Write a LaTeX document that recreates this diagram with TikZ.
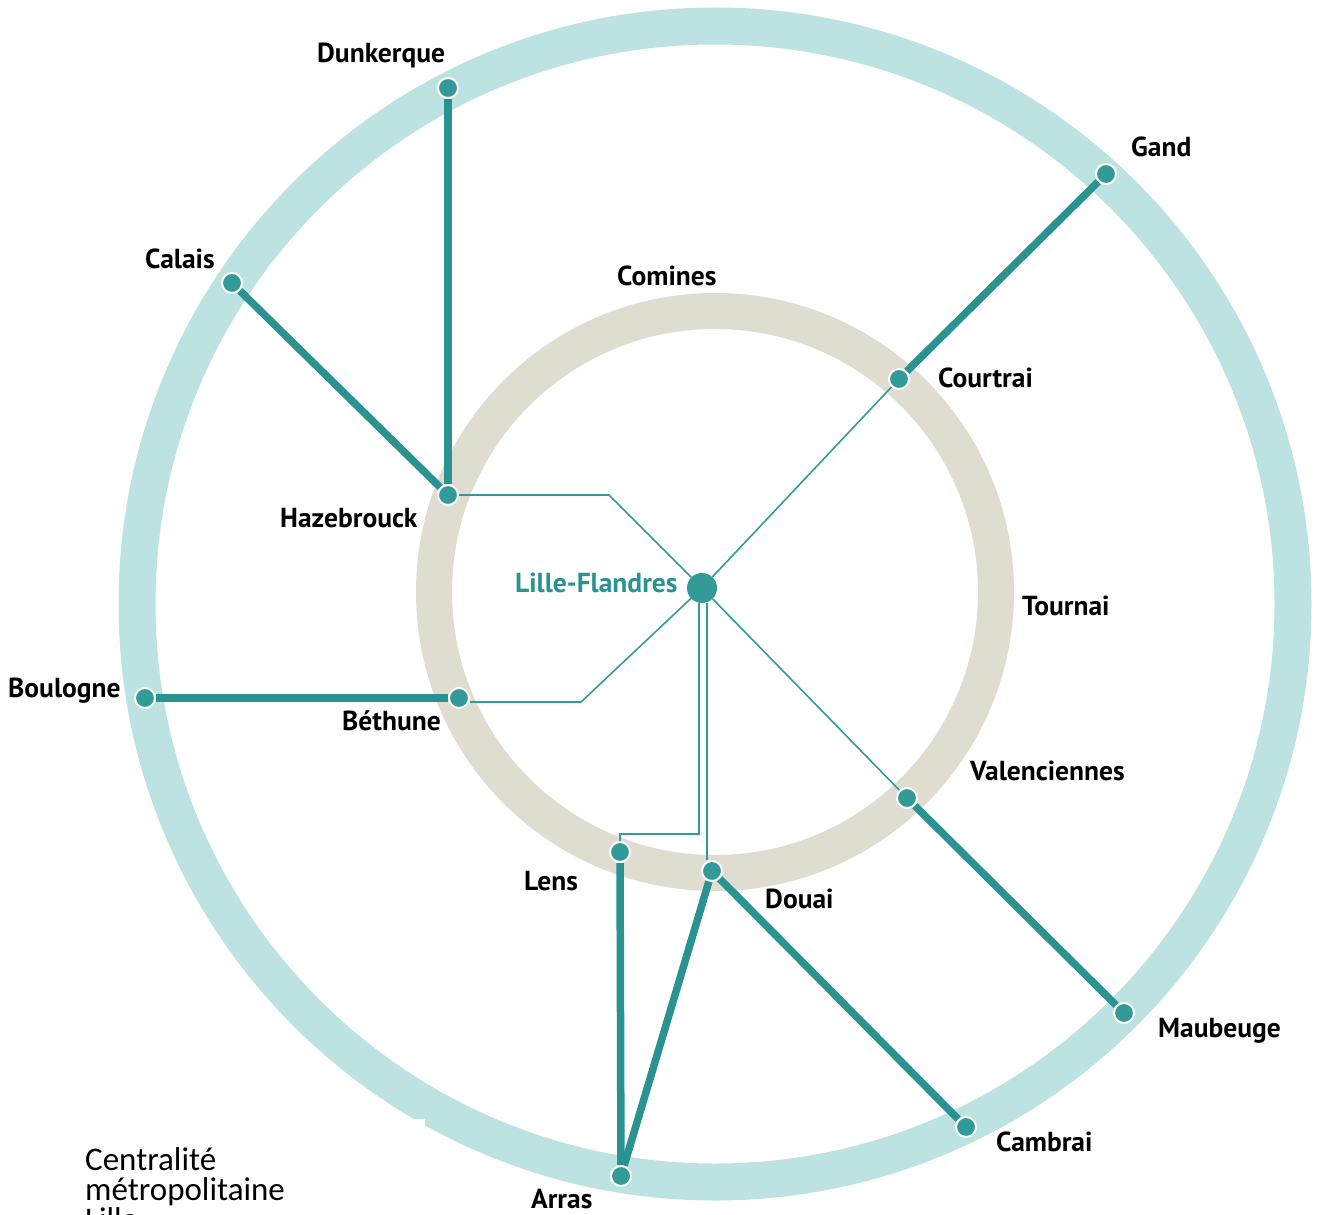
\documentclass[tikz,border=0pt]{standalone}
\usepackage{fontspec}
\setmainfont{PT Sans}
\newfontfamily\legendfont{Carlito}
\definecolor{ringout}{RGB}{188,227,225}
\definecolor{ringin}{RGB}{223,221,208}
\definecolor{lineteal}{RGB}{42,146,144}
\definecolor{dotteal}{RGB}{50,155,152}

\begin{document}
\begin{tikzpicture}[x=1pt,y=-1pt,
  station/.style={circle,fill=dotteal,draw=white,line width=2pt,minimum size=20pt,inner sep=0pt},
  hub/.style={circle,fill=dotteal,minimum size=30pt,inner sep=0pt},
  mainline/.style={draw=lineteal,line width=7.5pt},
  branch/.style={draw=dotteal,line width=1.6pt},
  city/.style={anchor=base west,inner sep=0pt,font=\bfseries\fontsize{27.5}{30}\selectfont}]
\useasboundingbox (0,0) rectangle (1320,1215);
\clip (0,0) rectangle (1320,1215);

%rings
\draw[ringout,line width=37pt] (715,604) circle [radius=578pt];
\draw[ringin,line width=36pt] (715,592) circle [radius=281pt];
\fill[white] (0,1119) rectangle (425,1215);

%stations
\node[hub] (lille) at (702,588) {};
\foreach \name/\px/\py in {dun/448/88, cal/232/283, gand/1106/174, cour/899/379,
  haz/448/495, boul/145/698, bet/459/698, val/907/798, maub/1124/1013,
  lens/620/852, douai/712/871, camb/966/1127, arras/621/1176}
\node[station] (\name) at (\px,\py) {};

%regional lines
\foreach \a/\b in {dun/haz, cal/haz, gand/cour, boul/bet, val/maub,
  lens/arras, douai/arras, douai/camb}
\draw[mainline] (\a) -- (\b);

%links to Lille
\draw[branch] (haz) -- (609,495) -- (lille);
\draw[branch] ([yshift=-4pt]bet.east) -- (581,702) -- (lille);
\draw[branch] (cour) -- (lille);
\draw[branch] (val) -- (lille);
\draw[branch] ([xshift=-3pt]lille.south) -- (699,834) -- (620,834) -- (lens);
\draw[branch] ([xshift=5pt]lille.south) -- ([xshift=-5pt]douai.north);

%names
\foreach \name/\txt/\px/\py in {dun/Dunkerque/317/63, cal/Calais/145/268,
  gand/Gand/1131/156, com/Comines/617/285, cour/Courtrai/938/387,
  haz/Hazebrouck/280/527, tour/Tournai/1022/615, boul/Boulogne/8/697,
  bet/Béthune/342/730, val/Valenciennes/970/780, lens/Lens/524/890,
  douai/Douai/765/908, maub/Maubeuge/1158/1037, camb/Cambrai/996/1151,
  arras/Arras/531/1208}
\node[city] (\name-lbl) at (\px,\py) {\txt};
\node[city,text=lineteal] (lille-lbl) at (515,592) {Lille-Flandres};

%legend
\node[anchor=base west,inner sep=0pt,align=left,font=\legendfont\fontsize{33}{30}\selectfont]
  (legend) at (85,1230) {Centralité\\métropolitaine\\Lille};

\end{tikzpicture}
\end{document}
